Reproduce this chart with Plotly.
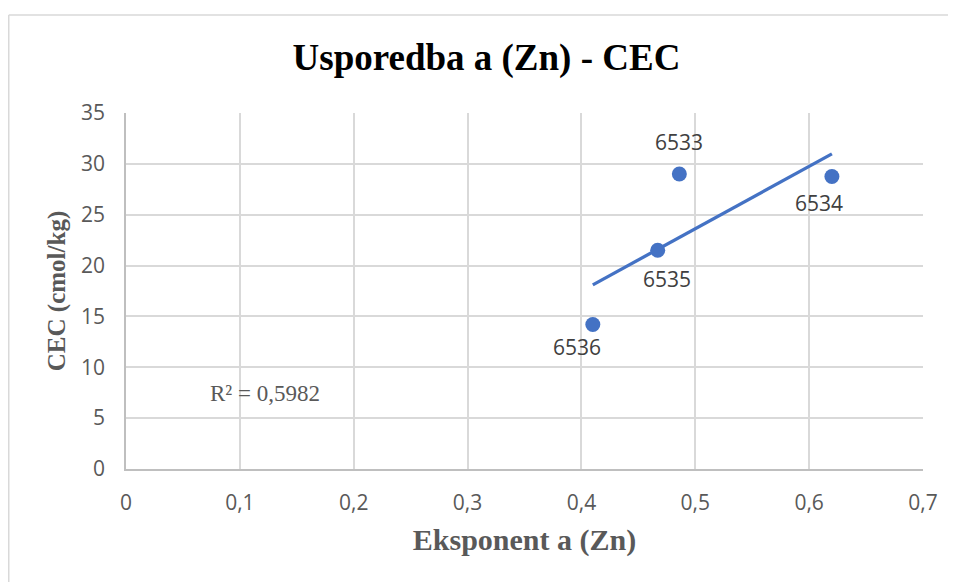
import plotly.graph_objects as go
import numpy as np

# Data
sample_ids = ["6533", "6534", "6535", "6536"]
exponent_a = [0.486, 0.620, 0.467, 0.410]
cec = [29.0, 28.75, 21.5, 14.2]
r2_text = "R² = 0,5982"
x_ticks = [0, 0.1, 0.2, 0.3, 0.4, 0.5, 0.6, 0.7]
y_ticks = [0, 5, 10, 15, 20, 25, 30, 35]

# label offsets (pixels) to mimic the reference placement
label_dy = [32, -26, -29, -22]
label_dx = [0, -13, 9, -16]

# Trendline (least squares over the points)
slope, intercept = np.polyfit(exponent_a, cec, 1)
xt = np.array([min(exponent_a), max(exponent_a)])
yt = slope * xt + intercept

BLUE = "#4472C4"
GREY = "#595959"
SANS = "Open Sans, Noto Sans, sans-serif"
SERIF = "Liberation Serif, Times New Roman, serif"

fig = go.Figure()
fig.add_trace(go.Scatter(x=xt, y=yt, mode="lines", line=dict(color=BLUE, width=3.3),
                         showlegend=False, hoverinfo="skip"))
fig.add_trace(go.Scatter(x=exponent_a, y=cec, mode="markers",
                         marker=dict(color=BLUE, size=15), showlegend=False))

for sid, xv, yv, dy, dx in zip(sample_ids, exponent_a, cec, label_dy, label_dx):
    fig.add_annotation(x=xv, y=yv, text=sid, showarrow=False, yshift=dy, xshift=dx,
                       font=dict(family=SANS, size=21, color="#404040"))

fig.add_annotation(x=0.122, y=7.45, text=r2_text, showarrow=False,
                   font=dict(family=SERIF, size=23, color=GREY))

# the page body has an 8px margin; figure is sized so it fills the window exactly
fig.update_layout(
    width=948, height=574,
    margin=dict(l=118, r=33, t=105, b=113),
    paper_bgcolor="white", plot_bgcolor="white",
    separators=", ",
    title=dict(text="<b>Usporedba a (Zn) - CEC</b>", x=0.5047, xanchor="center",
               y=0.914, yanchor="middle",
               font=dict(family=SERIF, size=37, color="black")),
    xaxis=dict(range=[0, 0.7], tickvals=x_ticks, showgrid=True, gridcolor="#d9d9d9", gridwidth=1.5,
               zeroline=False, showline=True, linecolor="#bfbfbf", linewidth=1.5,
               tickfont=dict(family=SANS, size=21, color=GREY),
               ticks="", ticklabelstandoff=14,
               title=dict(text="<b>Eksponent a (Zn)</b>", standoff=14,
                          font=dict(family=SERIF, size=30, color=GREY))),
    yaxis=dict(range=[0, 35], tickvals=y_ticks, showgrid=True, gridcolor="#d9d9d9", gridwidth=1.5,
               zeroline=False, showline=True, linecolor="#bfbfbf", linewidth=1.5,
               tickfont=dict(family=SANS, size=21, color=GREY),
               ticks="", ticklabelstandoff=15,
               title=dict(text="<b>CEC (cmol/kg)</b>", standoff=8,
                          font=dict(family=SERIF, size=25, color=GREY))),
)

# chart-area border (left and top edges visible)
fig.add_shape(type="line", xref="paper", yref="paper", x0=-0.1471, x1=-0.1471, y0=-0.5, y1=1.2753,
              line=dict(color="#d9d9d9", width=1.5))
fig.add_shape(type="line", xref="paper", yref="paper", x0=-0.1471, x1=1.2, y0=1.2753, y1=1.2753,
              line=dict(color="#d9d9d9", width=1.5))

fig.write_html("out.html")
